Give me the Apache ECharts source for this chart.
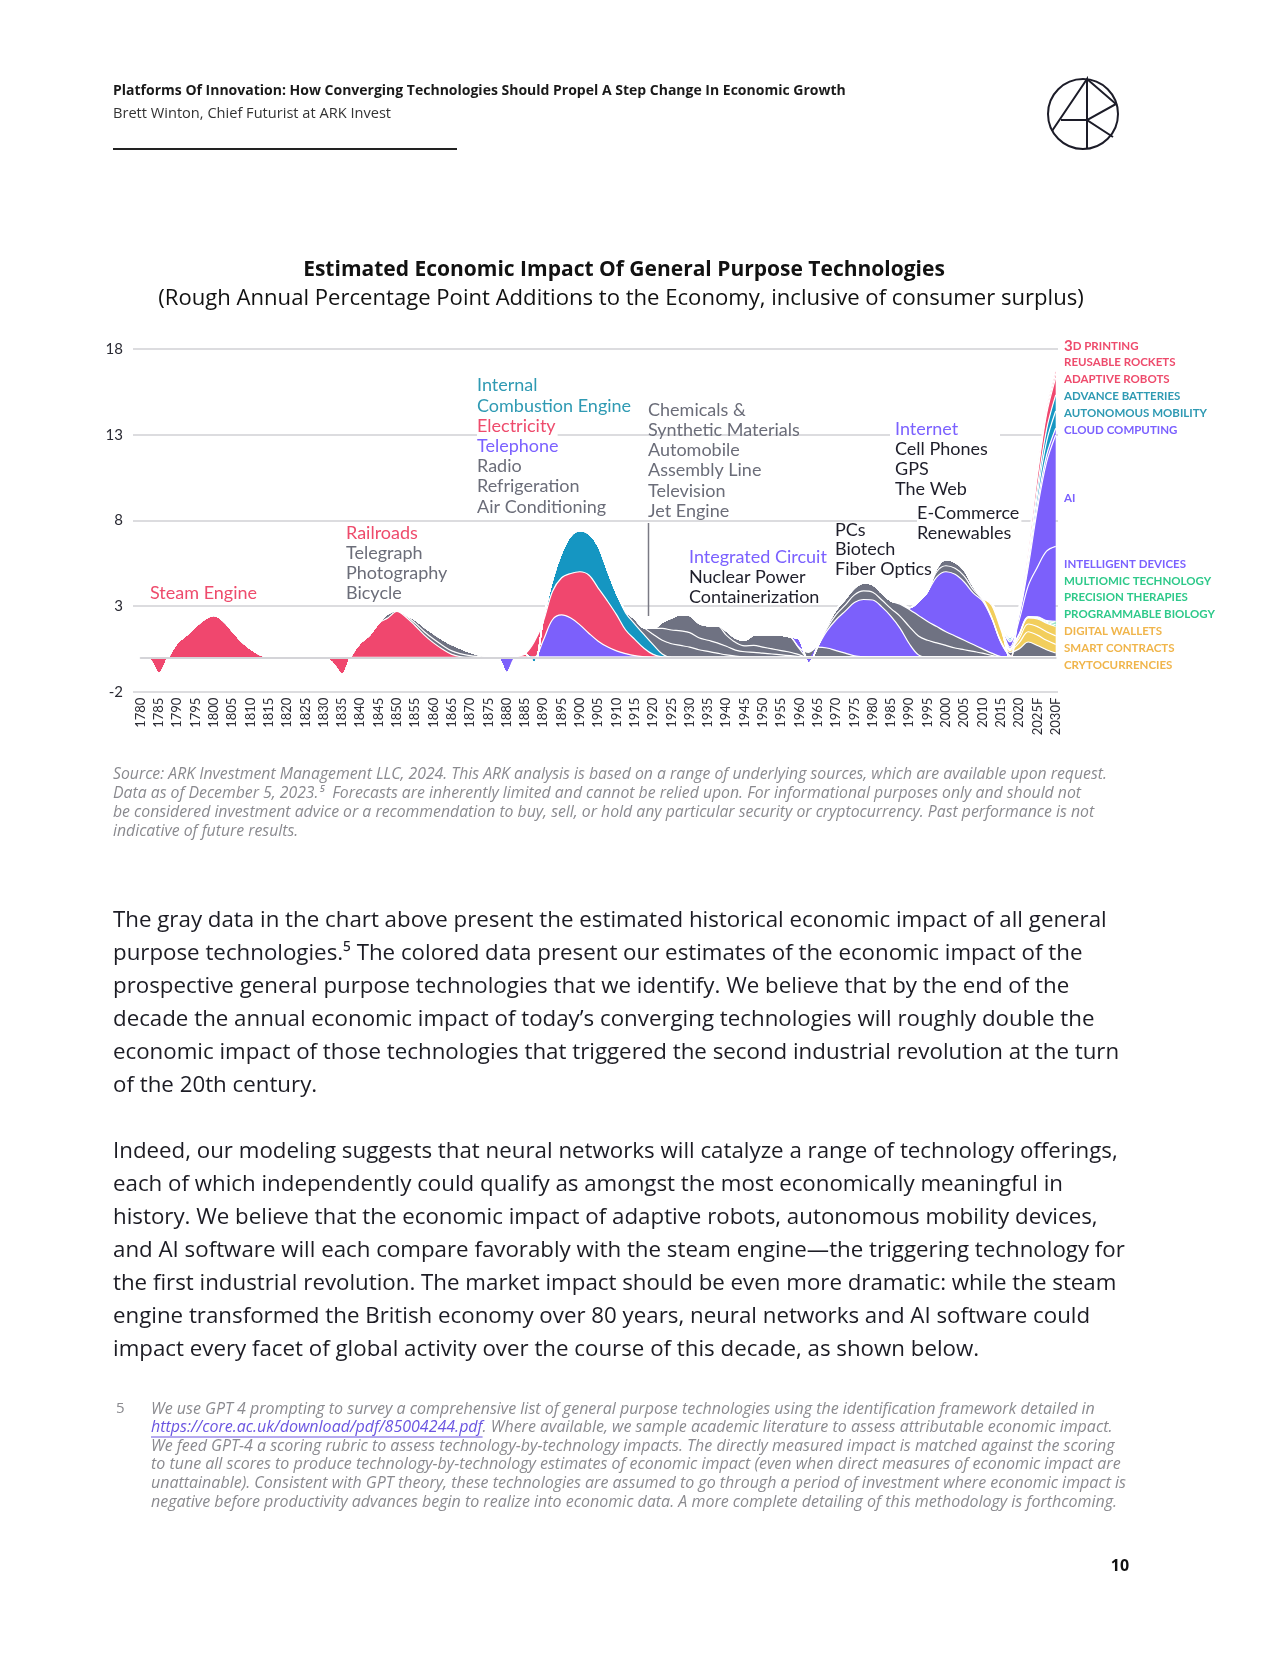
<!DOCTYPE html>
<html><head><meta charset="utf-8">
<script src="https://cdn.jsdelivr.net/npm/echarts@6/dist/echarts.min.js"></script>
<style>html,body{margin:0;padding:0;background:#fff}#c{width:1280px;height:1656px}</style>
</head><body><div id="c"></div>
<script>
// ---------- axis / tick data ----------
const xTickLabels = ['1780','1785','1790','1795','1800','1805','1810','1815','1820','1825','1830','1835','1840','1845','1850','1855','1860','1865','1870','1875','1880','1885','1890','1895','1900','1905','1910','1915','1920','1925','1930','1935','1940','1945','1950','1955','1960','1965','1970','1975','1980','1985','1990','1995','2000','2005','2010','2015','2020','2025F','2030F'];
const yTickLabels = ['-2','3','8','13','18'];

// ---------- series values (every 2.5 years, from the start year given) ----------
const steamEngine      = [0,-0.15,-0.95,0,0.85,1.3,1.8,2.25,2.45,2.15,1.55,0.95,0.5,0.18,0.03,0];            // from 1780
const railroads        = [0,-0.35,-1.0,0.1,0.85,1.3,2.0,2.3,2.68,2.35,1.85,1.3,0.85,0.48,0.18,0.04,0];       // from 1830
const telegraph        = [0,0.25,0.05,0.08,0.15,0.2,0.22,0.22,0.2,0.17,0.1,0.05,0.02,0];                     // from 1845
const photoBicycle     = [0,0.07,0.2,0.28,0.33,0.35,0.37,0.31,0.2,0.09,0.02,0];                              // from 1850
const telephone        = [0,-0.9,0,0,0,1.0,2.2,2.48,2.3,1.9,1.4,0.95,0.62,0.38,0.22,0.1,0.04,0];             // from 1877.5
const electricity      = [0,0.2,0.9,1.1,1.65,2.17,2.6,3.1,3.4,3.1,2.68,2.12,1.38,0.95,0.5,0.18,0.03,0];      // from 1882.5
const combustionEngine = [0,-0.3,0.15,0.65,1.45,2.2,2.4,2.4,2.45,1.8,1.25,1.0,0.9,0.8,0.57,0.17,0];          // from 1885
const chemicals        = [0,0.1,0.3,0.4,0.6,0.8,0.8,0.7,0.6,0.45,0.35,0.25,0.15,0.08,0.03,0];               // from 1910
const automobile       = [0,0.35,0.7,0.8,0.85,0.85,0.7,0.65,0.6,0.5,0.35,0.3,0.3,0.25,0.2,0.15,0.1,0.05,0]; // from 1917.5
const assemblyLine     = [0,0.35,0.7,0.95,1.0,0.85,0.85,1.0,0.65,0.45,0.35,0.4,0.35,0.3,0.25,0.2,0.1,0];    // from 1920
const televisionJet    = [0,0.25,0.25,0.32,0.6,0.73,0.83,0.9,0.9,0.35,0];                                   // from 1937.5
const nuclearContainer = [0,0.05,0.3,0.6,0.55,0.4,0.25,0.1,0.03,0];                                         // from 1957.5
const integratedCircuit= [0,0.5,-0.35,0.05,1.0,1.8,2.45,3.1,3.35,3.35,2.95,2.4,1.7,0.8,0.15,0];            // from 1957.5
const pcs              = [0,0.15,0.3,0.35,0.45,0.5,0.45,0.4,0.45,0.7,1.0,1.1,1.0,0.85,0.7,0.55,0.45,0.35,0.25,0.12,0.02,0]; // from 1965
const biotechFiber     = [0,0.15,0.28,0.35,0.4,0.45,0.45,0.4,0.45,0.7,1.0,1.2,1.1,0.95,0.8,0.7,0.55,0.4,0.25,0.13,0.03,0]; // from 1965
const internet         = [0,0.1,0.1,0.8,1.75,2.9,3.5,3.6,3.4,3.0,2.8,2.05,0.85,0.1,0];                      // from 1985
const cellGpsWeb       = [0,0.3,0.35,0.35,0.35,0.2,0.08,0];                                                 // from 1995
const ecomRenewables   = [0,0.2,0.35,0.35,0.35,0.2,0.1,0.05,0.05,0.2,0.5,0.9,0.7,0.45,0.26];               // from 1995
const cryptocurrencies = [0,0.7,0.7,0.1,0.35,0.6,0.6,0.55,0.5];                                            // from 2010
const smartContracts   = [0,0.15,0.15,0.05,0.25,0.45,0.5,0.5,0.5];                                         // from 2010
const digitalWallets   = [0,0.05,0.02,0.2,0.35,0.45,0.5,0.55];                                             // from 2012.5
const programmableBio  = [0,0.01,0.02,0.03,0.04,0.05,0.1];                                                 // from 2015
const precisionTherapy = [0,0.01,0.02,0.03,0.04,0.05,0.1];                                                 // from 2015
const multiomic        = [0,0.01,0.02,0.03,0.04,0.05,0.1];                                                 // from 2015
const intelligentDev   = [0,0.1,0.8,1.8,2.9,4.05,4.37];                                                    // from 2015
const aiSoftware       = [0,0.3,0.3,1.1,3.4,5.2,6.5];                                                      // from 2015
const cloudComputing   = [0,0.05,0.1,0.3,0.35,0.4,0.4];                                                    // from 2015
const autonomousMob    = [0,0.1,0.08,0.2,0.5,0.8,1.0];                                                     // from 2015
const advanceBatteries = [0,0.1,0.07,0.2,0.4,0.7,0.94];                                                    // from 2015
const adaptiveRobots   = [0,-0.15,0.15,0.4,0.7,0.9,1.0];                                                   // from 2015
const reusableRockets  = [0,0,0.05,0.1,0.15,0.2,0.25];                                                     // from 2015
const printing3d       = [0,0,0.05,0.1,0.15,0.2,0.21];                                                     // from 2015

// ---------- style ----------
const PINK='#F0476E', GRAY='#6F7282', PURPLE='#7C60FB', TEAL='#1596C2', GREEN='#2DCB89', YELLOW='#F2CE5C';
const T_PINK='#EE4B6C', T_GRAY='#6B6D79', T_PURPLE='#7B61FF', T_TEAL='#2F9AB3', T_DARK='#1E1E2A', T_GREEN='#2EC98A', T_YELLOW='#F0B54B';

// stack order bottom -> top : [values, start year, colour]
const layers = [
  [steamEngine,1780,PINK],[railroads,1830,PINK],[telegraph,1845,GRAY],[photoBicycle,1850,GRAY],
  [telephone,1877.5,PURPLE],[electricity,1882.5,PINK],[combustionEngine,1885,TEAL],
  [chemicals,1910,GRAY],[automobile,1917.5,GRAY],[assemblyLine,1920,GRAY],[televisionJet,1937.5,GRAY],
  [nuclearContainer,1957.5,GRAY],[integratedCircuit,1957.5,PURPLE],[pcs,1965,GRAY],[biotechFiber,1965,GRAY],
  [internet,1985,PURPLE],[cellGpsWeb,1995,GRAY],[ecomRenewables,1995,GRAY],
  [cryptocurrencies,2010,YELLOW],[smartContracts,2010,YELLOW],[digitalWallets,2012.5,YELLOW],
  [programmableBio,2015,GREEN],[precisionTherapy,2015,GREEN],[multiomic,2015,GREEN],
  [intelligentDev,2015,PURPLE],[aiSoftware,2015,PURPLE],[cloudComputing,2015,PURPLE],
  [autonomousMob,2015,TEAL],[advanceBatteries,2015,TEAL],
  [adaptiveRobots,2015,PINK],[reusableRockets,2015,PINK],[printing3d,2015,PINK]
];

const xGrid = []; for (let y = 1780; y <= 2030; y += 2.5) xGrid.push(String(y));
const series = layers.map(([vals, start, color], k) => {
  const s = Math.round((start - 1780) / 2.5);
  const data = xGrid.map((yr, i) => { const j = i - s; return (j >= 0 && j < vals.length) ? vals[j] : 0; });
  return {
    type: 'line', stack: 'gpt', name: 's' + k, data,
    smooth: 0.35, symbol: 'none', showSymbol: false,
    lineStyle: { color: '#ffffff', width: 1.2 },
    areaStyle: { color: color, opacity: 1 },
    itemStyle: { color: color },
    emphasis: { disabled: true }, silent: true, z: 2,
    xAxisIndex: 0, yAxisIndex: 0
  };
});

// ---------- text ----------
const LATO = 'Lato, "Noto Sans", sans-serif';
const OPEN = '"Open Sans", "Noto Sans", sans-serif';
const G = [];
function t(x, y, text, color, size, weight, extra, fam) {
  G.push({ type: 'text', x, y, z: 20, silent: true,
    style: Object.assign({ text, fill: color, font: (weight||'normal') + ' ' + size + 'px ' + (fam||LATO),
      align: 'left', verticalAlign: 'middle' }, extra || {}) });
}
// header
t(113, 91, 'Platforms Of Innovation: How Converging Technologies Should Propel A Step Change In Economic Growth', '#1a1a1a', 14, 'bold', null, OPEN);
t(113, 114, 'Brett Winton, Chief Futurist at ARK Invest', '#333', 14.6, 'normal', null, OPEN);
G.push({ type:'line', z:20, silent:true, shape:{x1:113,y1:149,x2:457,y2:149}, style:{stroke:'#222',lineWidth:2} });
// logo
G.push({ type:'circle', z:20, silent:true, shape:{cx:1083,cy:114,r:35}, style:{fill:'none',stroke:'#1c1c28',lineWidth:2} });
G.push({ type:'polyline', z:20, silent:true, shape:{points:[[1052,131],[1087,79],[1087,149]]}, style:{fill:'none',stroke:'#1c1c28',lineWidth:2} });
G.push({ type:'polyline', z:20, silent:true, shape:{points:[[1087,79],[1116,104],[1087,120],[1113,137]]}, style:{fill:'none',stroke:'#1c1c28',lineWidth:2} });
G.push({ type:'line', z:20, silent:true, shape:{x1:1061,y1:120,x2:1087,y2:120}, style:{stroke:'#1c1c28',lineWidth:2} });
// title
t(624, 270, 'Estimated Economic Impact Of General Purpose Technologies', '#111', 21, 'bold', {align:'center'}, OPEN);
t(621, 299, '(Rough Annual Percentage Point Additions to the Economy, inclusive of consumer surplus)', '#111', 22.1, 'normal', {align:'center'}, OPEN);

// annotations
const LH = 20.2, AF = 18;
t(150, 593, 'Steam Engine', T_PINK, AF);
[['Railroads',T_PINK],['Telegraph',T_GRAY],['Photography',T_GRAY],['Bicycle',T_GRAY]].forEach((a,i)=>t(346,533+i*LH,a[0],a[1],AF));
[['Internal',T_TEAL],['Combustion Engine',T_TEAL],['Electricity',T_PINK],['Telephone',T_PURPLE],['Radio',T_GRAY],['Refrigeration',T_GRAY],['Air Conditioning',T_GRAY]]
  .forEach((a,i)=>t(477,385.5+i*LH,a[0],a[1],AF,'normal',{backgroundColor:'#fff',padding:[1,2,1,0]}));
[['Chemicals &',T_GRAY],['Synthetic Materials',T_GRAY],['Automobile',T_GRAY],['Assembly Line',T_GRAY],['Television',T_GRAY],['Jet Engine',T_GRAY]]
  .forEach((a,i)=>t(648,410+i*LH,a[0],a[1],AF));
G.push({ type:'line', z:20, silent:true, shape:{x1:648.5,y1:523,x2:648.5,y2:616}, style:{stroke:'#7a7a84',lineWidth:1.5} });
[['Integrated Circuit',T_PURPLE],['Nuclear Power',T_DARK],['Containerization',T_DARK]].forEach((a,i)=>t(689,557+i*LH,a[0],a[1],AF));
[['PCs',T_DARK],['Biotech',T_DARK],['Fiber Optics',T_DARK]].forEach((a,i)=>t(835,530+i*19.5,a[0],a[1],AF));
G.push({ type:'rect', z:15, silent:true, shape:{x:890,y:420,width:110,height:80}, style:{fill:'#fff'} });
[['Internet',T_PURPLE],['Cell Phones',T_DARK],['GPS',T_DARK],['The Web',T_DARK]].forEach((a,i)=>t(895,429+i*LH,a[0],a[1],AF));
[['E-Commerce',T_DARK],['Renewables',T_DARK]].forEach((a,i)=>t(917,513+i*LH,a[0],a[1],AF,'normal',{backgroundColor:'#fff',padding:[1,2,1,0]}));

// right-hand labels
const rightLabels = [
  ['REUSABLE ROCKETS',362.5,T_PINK],['ADAPTIVE ROBOTS',379.5,T_PINK],['ADVANCE BATTERIES',396.5,T_TEAL],
  ['AUTONOMOUS MOBILITY',413,T_TEAL],['CLOUD COMPUTING',430,T_PURPLE],['AI',498,T_PURPLE],['INTELLIGENT DEVICES',564.5,T_PURPLE],
  ['MULTIOMIC TECHNOLOGY',581,T_GREEN],['PRECISION THERAPIES',597.5,T_GREEN],['PROGRAMMABLE BIOLOGY',614.5,T_GREEN],
  ['DIGITAL WALLETS',631.5,T_YELLOW],['SMART CONTRACTS',648,T_YELLOW],['CRYTOCURRENCIES',665,T_YELLOW]];
G.push({ type:'text', x:1064, y:346, z:20, silent:true, style:{ text:'{a|3}{b|D PRINTING}', verticalAlign:'middle',
  rich:{ a:{fill:T_PINK,font:'bold 15px '+LATO}, b:{fill:T_PINK,font:'bold 11.5px '+LATO} } } });
rightLabels.forEach(a=>t(1064,a[1],a[0],a[2],11.5,'bold'));

// source note
const srcLines = [
 'Source: ARK Investment Management LLC, 2024. This ARK analysis is based on a range of underlying sources, which are available upon request.',
 'Data as of December 5, 2023.\u2075  Forecasts are inherently limited and cannot be relied upon. For informational purposes only and should not',
 'be considered investment advice or a recommendation to buy, sell, or hold any particular security or cryptocurrency. Past performance is not',
 'indicative of future results.'];
srcLines.forEach((s,i)=>t(113,774+i*19,s,'#8a8a8f',15.8,'italic',null,OPEN));

// body
const p1 = [
 'The gray data in the chart above present the estimated historical economic impact of all general',
 'purpose technologies.\u2075 The colored data present our estimates of the economic impact of the',
 'prospective general purpose technologies that we identify. We believe that by the end of the',
 'decade the annual economic impact of today\u2019s converging technologies will roughly double the',
 'economic impact of those technologies that triggered the second industrial revolution at the turn',
 'of the 20th century.'];
const p2 = [
 'Indeed, our modeling suggests that neural networks will catalyze a range of technology offerings,',
 'each of which independently could qualify as amongst the most economically meaningful in',
 'history. We believe that the economic impact of adaptive robots, autonomous mobility devices,',
 'and AI software will each compare favorably with the steam engine\u2014the triggering technology for',
 'the first industrial revolution. The market impact should be even more dramatic: while the steam',
 'engine transformed the British economy over 80 years, neural networks and AI software could',
 'impact every facet of global activity over the course of this decade, as shown below.'];
p1.forEach((s,i)=>t(113,921+i*33,s,'#1c1c24',22.3,'normal',null,OPEN));
p2.forEach((s,i)=>t(113,1152+i*33,s,'#1c1c24',22.3,'normal',null,OPEN));

// footnote
const FNF = 16;
t(116,1409,'5','#8a8a8f',15,'normal',null,OPEN);
const LINK = 'https://core.ac.uk/download/pdf/85004244.pdf';
const fn = [
 'We use GPT 4 prompting to survey a comprehensive list of general purpose technologies using the identification framework detailed in',
 null,
 'We feed GPT-4 a scoring rubric to assess technology-by-technology impacts. The directly measured impact is matched against the scoring',
 'to tune all scores to produce technology-by-technology estimates of economic impact (even when direct measures of economic impact are',
 'unattainable). Consistent with GPT theory, these technologies are assumed to go through a period of investment where economic impact is',
 'negative before productivity advances begin to realize into economic data. A more complete detailing of this methodology is forthcoming.'];
fn.forEach((s,i)=>{ if (s) t(151,1409+i*18.6,s,'#8a8a8f',FNF,'italic',null,OPEN); });
G.push({ type:'text', x:151, y:1409+18.6, z:20, silent:true, style:{ text:'{l|'+LINK+'}{n|. Where available, we sample academic literature to assess attributable economic impact.}',
  verticalAlign:'middle', rich:{ l:{fill:'#6a55e0',font:'italic '+FNF+'px '+OPEN}, n:{fill:'#8a8a8f',font:'italic '+FNF+'px '+OPEN} } } });
const cv = document.createElement('canvas').getContext('2d'); cv.font = 'italic '+FNF+'px ' + OPEN;
const linkW = cv.measureText(LINK).width;
G.push({ type:'line', z:20, silent:true, shape:{x1:151,y1:1437,x2:151+linkW,y2:1437}, style:{stroke:'#6a55e0',lineWidth:1} });
// page number
t(1120,1566,'10','#111',16,'bold',{align:'center'},OPEN);

// ---------- chart ----------
const chart = echarts.init(document.getElementById('c'), null, { renderer: 'canvas', width: 1280, height: 1656 });
chart.setOption({
  animation: false,
  backgroundColor: '#ffffff',
  grid: [
    { left: 140.7, right: 224.3, top: 349, bottom: 964.3, containLabel: false },   // data
    { left: 133, right: 222, top: 349, bottom: 964.3, containLabel: false }        // gridlines / y labels
  ],
  xAxis: [
    { type: 'category', data: xGrid, boundaryGap: false, gridIndex: 0, z: 5,
      axisLine: { show: true, onZero: true, onZeroAxisIndex: 0, lineStyle: { color: '#d4d4d8', width: 2 } },
      axisTick: { show: false }, axisLabel: { show: false }, splitLine: { show: false } },
    { type: 'category', data: xGrid, boundaryGap: false, gridIndex: 0, position: 'bottom',
      axisLine: { show: false, onZero: false }, axisTick: { show: false }, splitLine: { show: false },
      axisLabel: { show: true, rotate: 90, margin: 6, fontSize: 13, color: '#2a2a33', fontFamily: LATO,
        interval: (idx) => idx % 2 === 0,
        formatter: (v, idx) => xTickLabels[Math.round(idx / 2)] } },
    { type: 'value', min: 0, max: 1, gridIndex: 1, show: false }
  ],
  yAxis: [
    { type: 'value', min: -2, max: 18, gridIndex: 0, axisLine: { show: false }, axisTick: { show: false },
      axisLabel: { show: false }, splitLine: { show: false } },
    { type: 'value', min: 0, max: 20, interval: 5, gridIndex: 1, position: 'left',
      axisLine: { show: false }, axisTick: { show: false },
      axisLabel: { margin: 10, fontSize: 15, color: '#2a2a33', fontFamily: LATO, formatter: (v, i) => yTickLabels[i] },
      splitLine: { show: true, lineStyle: { color: '#dcdcdf', width: 2 } } }
  ],
  series,
  graphic: { elements: G }
});
</script></body></html>
